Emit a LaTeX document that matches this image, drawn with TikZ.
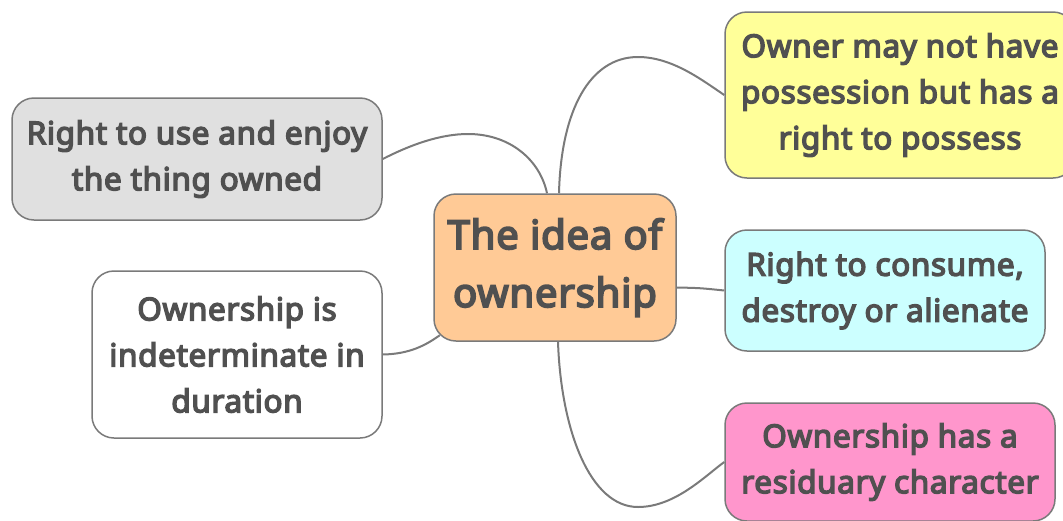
\documentclass[tikz,border=0pt]{standalone}
\usepackage{fontspec}
\setmainfont{Noto Sans}[AutoFakeBold=4.5,LetterSpace=2]
\definecolor{bordergray}{HTML}{7A7A7A}
\definecolor{linegray}{HTML}{7A7A7A}
\definecolor{textgray}{HTML}{505050}
\definecolor{fillgray}{HTML}{E0E0E0}
\definecolor{fillorange}{HTML}{FFCA96}
\definecolor{fillyellow}{HTML}{FFFF99}
\definecolor{fillcyan}{HTML}{CCFFFF}
\definecolor{fillpink}{HTML}{FF96CC}
\begin{document}
\begin{tikzpicture}[x=1pt,y=-1pt,
  box/.style={draw=bordergray, line width=1.5pt, rounded corners=22pt, align=center,
    text=textgray, font=\bfseries\fontsize{31.5}{46}\selectfont, inner sep=0pt},
  central/.style={box, font=\bfseries\fontsize{40}{58}\selectfont},
  link/.style={draw=linegray, line width=2pt}]
\useasboundingbox (0,0) rectangle (1063,520);
\begin{scope}
\clip (0,0) rectangle (1063,520);
\node[central, fill=fillorange, minimum width=242pt, minimum height=147pt] (idea) at (555,267.5) {The idea of\\ownership};
\node[box, fill=fillgray, minimum width=370pt, minimum height=122pt] (use) at (197,159) {Right to use and enjoy\\the thing owned};
\node[box, fill=white, minimum width=290pt, minimum height=167pt] (dur) at (237,354.5) {Ownership is\\indeterminate in\\duration};
\node[box, fill=fillyellow, minimum width=350pt, minimum height=166pt] (poss) at (900,95) {Owner may not have\\possession but has a\\right to possess};
\node[box, fill=fillcyan, minimum width=320pt, minimum height=121pt] (cons) at (885,290.5) {Right to consume,\\destroy or alienate};
\node[box, fill=fillpink, minimum width=330pt, minimum height=118pt] (resid) at (890,462) {Ownership has a\\residuary character};

\draw[link] (use.east) .. controls (410,145) and (440,134) .. (468,134)
  .. controls (510,134) and (540,160) .. ([xshift=-8pt]idea.north);
\draw[link] ([xshift=4pt]idea.north) .. controls (561,110) and (590,57) .. (638,57)
  .. controls (672,57) and (702,80) .. (poss.west);
\draw[link] ([yshift=-20pt]idea.east) .. controls (700,288) .. (cons.west);
\draw[link] ([xshift=3pt]idea.south) .. controls (561,430) and (590,507) .. (638,507)
  .. controls (675,507) and (705,476) .. (resid.west);
\draw[link] (dur.east) .. controls (410,354) and (426,345) .. ([shift={(6.4pt,6.4pt)}]idea.south west);
\end{scope}
\end{tikzpicture}
\end{document}
